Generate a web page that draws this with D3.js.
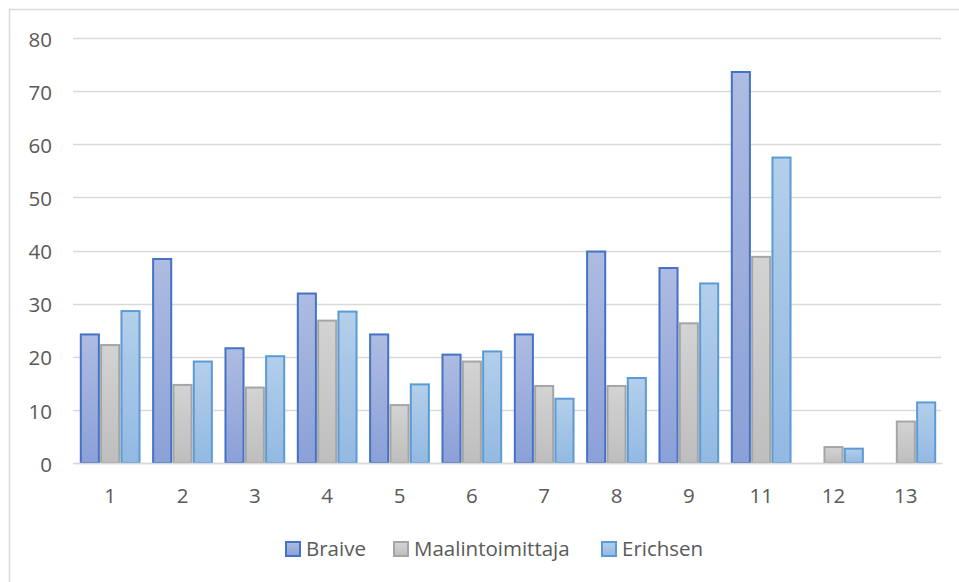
<!DOCTYPE html>
<html>
<head>
<meta charset="utf-8">
<script src="https://cdn.jsdelivr.net/npm/d3@7"></script>
<style>
  html, body { margin: 0; padding: 0; background: #fff; }
  svg { display: block; }
  text { font-family: "Open Sans", "Liberation Sans", sans-serif; fill: #595959; }
</style>
</head>
<body>
<svg id="chart" width="959" height="582"></svg>
<script>
// Measurements per sample
const categories = ["1", "2", "3", "4", "5", "6", "7", "8", "9", "11", "12", "13"];
const braive           = [24.2, 38.4, 21.6, 31.9, 24.2, 20.4, 24.2, 39.8, 36.7, 73.6, 0,   0];
const maalintoimittaja = [22.2, 14.7, 14.2, 26.8, 10.9, 19.1, 14.5, 14.5, 26.3, 38.8, 3.0, 7.8];
const erichsen         = [28.6, 19.1, 20.1, 28.5, 14.8, 21.0, 12.1, 16.0, 33.8, 57.5, 2.7, 11.4];
const yTicks = [0, 10, 20, 30, 40, 50, 60, 70, 80];

const series = [
  { name: "Braive", values: braive, stroke: "#4472c4", top: "#aebce2", bottom: "#8ba0d8" },
  { name: "Maalintoimittaja", values: maalintoimittaja, stroke: "#a5a5a5", top: "#d3d3d3", bottom: "#bebebe" },
  { name: "Erichsen", values: erichsen, stroke: "#5b9bd5", top: "#b3cfeb", bottom: "#93b9e2" }
];

const FONT = 20.5;
const svg = d3.select("#chart");
const defs = svg.append("defs");
series.forEach((s, i) => {
  const g = defs.append("linearGradient").attr("id", "grad" + i)
    .attr("x1", 0).attr("y1", 0).attr("x2", 0).attr("y2", 1);
  g.append("stop").attr("offset", "0%").attr("stop-color", s.top);
  g.append("stop").attr("offset", "100%").attr("stop-color", s.bottom);
});

// Chart frame
svg.append("rect").attr("x", 9.5).attr("y", 9.5).attr("width", 960).attr("height", 590)
  .attr("fill", "none").attr("stroke", "#d9d9d9").attr("stroke-width", 1.5);

const x = d3.scaleBand().domain(categories).range([74, 942]).paddingInner(0).paddingOuter(0);
const y = d3.scaleLinear().domain([0, 80]).range([463, 38]);

// Gridlines
svg.append("g").selectAll("line").data(yTicks).join("line")
  .attr("x1", 73).attr("x2", 941)
  .attr("y1", d => Math.round(y(d)) + 0.5).attr("y2", d => Math.round(y(d)) + 0.5)
  .attr("stroke", "#d9d9d9").attr("stroke-width", 1.5);

// Y axis labels
const yAxis = d3.axisLeft(y).tickValues(yTicks).tickSize(0).tickPadding(0);
const yg = svg.append("g").attr("transform", "translate(52,1)").call(yAxis);
yg.select(".domain").remove();
yg.selectAll("text").attr("font-size", FONT).attr("fill", "#595959").attr("dy", "0.35em")
  .style("font-family", "'Open Sans', 'Liberation Sans', sans-serif");

// Bars
const pitch = x.bandwidth() * 0.281;
const barW = x.bandwidth() * 0.25;
const groupW = pitch * 2 + barW;
series.forEach((s, i) => {
  svg.append("g").selectAll("rect").data(s.values.map((v, j) => ({ v, c: categories[j] })))
    .join("rect")
    .filter(d => d.v > 0)
    .attr("x", d => x(d.c) + (x.bandwidth() - groupW) / 2 + i * pitch)
    .attr("y", d => y(d.v))
    .attr("width", barW)
    .attr("height", d => y(0) - y(d.v))
    .attr("fill", "url(#grad" + i + ")")
    .attr("stroke", s.stroke)
    .attr("stroke-width", 2);
});

// X axis
const xAxis = d3.axisBottom(x).tickSize(0).tickPadding(25);
const xg = svg.append("g").attr("transform", "translate(0,463)").call(xAxis);
xg.select(".domain").attr("stroke", "#d9d9d9").attr("stroke-width", 1.5);
xg.selectAll("text").attr("font-size", FONT).attr("fill", "#595959")
  .style("font-family", "'Open Sans', 'Liberation Sans', sans-serif");

// Legend
const legendX = [286, 394, 602];
const lg = svg.append("g");
series.forEach((s, i) => {
  lg.append("rect").attr("x", legendX[i]).attr("y", 542).attr("width", 14).attr("height", 14)
    .attr("fill", "url(#grad" + i + ")").attr("stroke", s.stroke).attr("stroke-width", 2);
  lg.append("text").attr("x", legendX[i] + 20).attr("y", 549).attr("dy", "0.35em")
    .attr("font-size", FONT).text(s.name);
});
</script>
</body>
</html>
